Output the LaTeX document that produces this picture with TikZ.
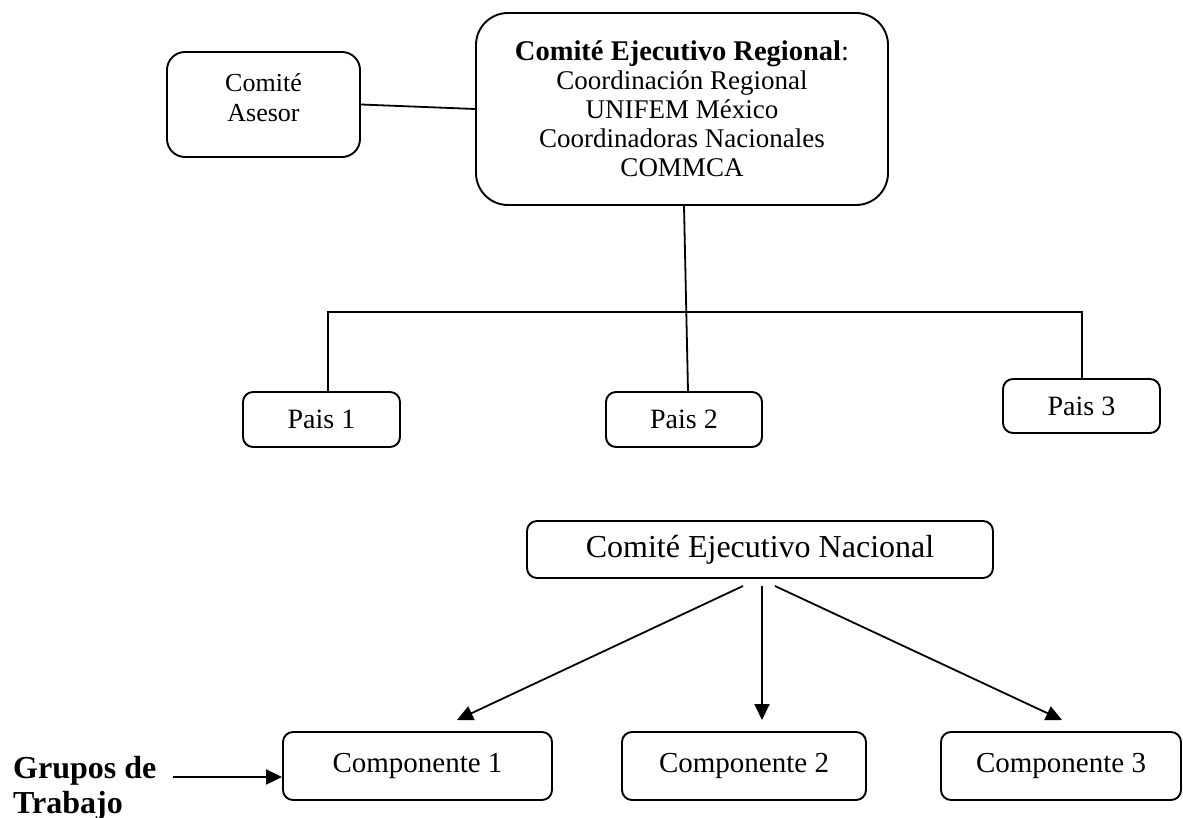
\documentclass[tikz,border=0pt]{standalone}
\usepackage{fontspec}
\setmainfont{Liberation Serif}
\usetikzlibrary{arrows.meta,calc}
\begin{document}
\begin{tikzpicture}[x=1pt,y=-1pt,
  box/.style={draw, line width=1.9pt, rounded corners=10pt, inner sep=0pt, align=center},
  conn/.style={line width=1.8pt},
  arr/.style={line width=1.8pt, -{Triangle[length=16pt,width=15pt]}},
]
\useasboundingbox (0,0) rectangle (1183,818);
% top level
\node[box, rounded corners=32pt, minimum width=412pt, minimum height=192pt,
      font=\fontsize{27}{29}\selectfont] (main) at (682,109)
  {{\fontsize{28.5}{29}\selectfont\textbf{Comité Ejecutivo Regional}:}\\Coordinación Regional\\UNIFEM México\\Coordinadoras Nacionales\\COMMCA};
\node[box, rounded corners=18pt, minimum width=193pt, minimum height=105pt, text depth=14pt,
      font=\fontsize{26}{30}\selectfont] (asesor) at (263.5,104.5) {Comité\\Asesor};
\draw[conn] (asesor.east) -- (main.west);
% countries
\node[box, minimum width=157pt, minimum height=55pt, font=\fontsize{28}{32}\selectfont] (pais1) at (321.5,419.5) {Pais 1};
\node[box, minimum width=156pt, minimum height=55pt, font=\fontsize{28}{32}\selectfont] (pais2) at (684,419.5) {Pais 2};
\node[box, minimum width=157pt, minimum height=54pt, font=\fontsize{28}{32}\selectfont] (pais3) at (1081.5,406) {Pais 3};
\coordinate (b1) at (328,312);
\coordinate (b3) at (1082,312);
\draw[conn] (b1 |- pais1.north) -- (b1) -- (b3) -- (b3 |- pais3.north);
\draw[conn] ($(main.south)+(2,0)$) -- ($(pais2.north)+(4,0)$);
% national level
\node[box, minimum width=466pt, minimum height=57pt, font=\fontsize{32}{36}\selectfont] (nac) at (760,549.5) {Comité Ejecutivo Nacional};
\node[box, minimum width=269pt, minimum height=68pt, font=\fontsize{29}{33}\selectfont] (comp1) at (417.5,766) {Componente 1};
\node[box, minimum width=244pt, minimum height=68pt, font=\fontsize{29}{33}\selectfont] (comp2) at (744,766) {Componente 2};
\node[box, minimum width=240pt, minimum height=68pt, font=\fontsize{29}{33}\selectfont] (comp3) at (1061,766) {Componente 3};
\coordinate (s1) at (743,586);
\coordinate (s2) at (762,586);
\coordinate (s3) at (775,586);
\coordinate (t1) at (457,720);
\coordinate (t2) at (762,720);
\coordinate (t3) at (1062,720);
\draw[arr] (s1) -- (t1);
\draw[arr] (s2) -- (t2);
\draw[arr] (s3) -- (t3);
% working groups
\node[anchor=base west, align=left, inner sep=0pt, font=\bfseries\fontsize{32}{35}\selectfont] (grupos) at (13,813) {Grupos de\\Trabajo};
\coordinate (g) at (173,777);
\draw[arr] (g) -- (comp1.west |- g);
\end{tikzpicture}
\end{document}
